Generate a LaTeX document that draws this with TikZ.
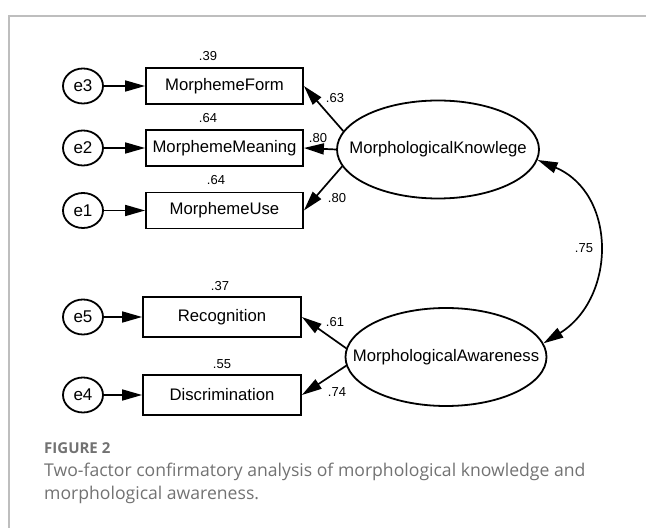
\documentclass[tikz,border=0pt]{standalone}
\usepackage{fontspec}
\setmainfont{Liberation Sans}
\newfontfamily\capfont{Open Sans}
\usetikzlibrary{shapes.geometric,arrows.meta}
\definecolor{capgray}{HTML}{727272}
\definecolor{framegray}{HTML}{BEBEBE}
\begin{document}
\begin{tikzpicture}[x=1pt,y=1pt,
  obs/.style={draw, line width=1.8pt, minimum width=157pt, minimum height=36pt, inner sep=0pt, font=\fontsize{16.7}{20}\selectfont},
  err/.style={draw, ellipse, line width=1.8pt, minimum width=40pt, minimum height=35pt, inner sep=0pt, font=\fontsize{17}{20}\selectfont},
  lat/.style={draw, ellipse, line width=1.8pt, minimum width=202pt, minimum height=98pt, inner sep=0pt, font=\fontsize{16.7}{20}\selectfont},
  num/.style={font=\fontsize{13}{15}\selectfont, inner sep=0pt},
  arr/.style={line width=1.7pt, -{Triangle[length=20pt,width=11pt]}},
  dblarr/.style={line width=1.7pt, {Triangle[length=20pt,width=11pt]}-{Triangle[length=20pt,width=11pt]}},
  frameline/.style={draw=framegray, line width=1.2pt},
  captext/.style={anchor=base west, inner sep=0pt, text=capgray, font=\capfont\fontsize{17.6}{21}\selectfont}]
\useasboundingbox (0,0) rectangle (646,528);
% frame
\coordinate (f0) at (9,0);
\coordinate (f1) at (9,512);
\coordinate (f2) at (646,512);
\draw[frameline] (f0) -- (f1) -- (f2);
% observed variables and errors
\node[err] (e3) at (83,442) {e3};
\node[obs] (mf) at (224.5,442) {MorphemeForm};
\node[err] (e2) at (83,380) {e2};
\node[obs] (mm) at (224.5,380) {MorphemeMeaning};
\node[err] (e1) at (83,317.5) {e1};
\node[obs] (mu) at (224.5,317.5) {MorphemeUse};
\node[err] (e5) at (83,211) {e5};
\node[obs, minimum width=158pt, minimum height=40pt] (rec) at (222,211) {Recognition};
\node[err] (e4) at (83,133) {e4};
\node[obs, minimum width=158pt, minimum height=40pt] (dis) at (222,133) {Discrimination};
% latent variables
\node[lat] (mk) at (438,378.5) {\makebox[0pt]{MorphologicalKnowlege}};
\node[lat, minimum width=201pt] (ma) at (446,171) {\makebox[0pt]{MorphologicalAwareness}};
% error arrows
\draw[arr] (e3) -- (mf);
\draw[arr] (e2) -- (mm);
\draw[arr] (e1) -- (mu);
\draw[arr] (e5) -- (rec);
\draw[arr] (e4) -- (dis);
% loadings
\draw[arr] (mk.169.6) -- (mf.east);
\draw[arr] (mk.west) -- (mm.east);
\draw[arr] (mk.190.4) -- (mu.east);
\draw[arr] (ma.175.4) -- (rec.east);
\draw[arr] (ma.185.8) -- (dis.east);
% covariance
\draw[dblarr] (mk.354) to[out=-23,in=32,looseness=1.2] (ma.8);
% numbers
\node[num] (r39) at (208,472) {.39};
\node[num] (r64a) at (208,410) {.64};
\node[num] (r64b) at (216,347.5) {.64};
\node[num] (r37) at (220,242) {.37};
\node[num] (r55) at (222,164) {.55};
\node[num] (l63) at (335,430) {.63};
\node[num] (l80a) at (318,390) {.80};
\node[num] (l80b) at (337,330) {.80};
\node[num] (l61) at (335,206) {.61};
\node[num] (l74) at (337,136) {.74};
\node[num] (c75) at (584,280) {.75};
% caption
\node[captext, font=\capfont\fontsize{15}{18}\selectfont\bfseries] (fig) at (44,74) {FIGURE 2};
\node[captext] (cap1) at (44,51) {Two-factor confirmatory analysis of morphological knowledge and};
\node[captext] (cap2) at (44,28) {morphological awareness.};
\end{tikzpicture}
\end{document}
